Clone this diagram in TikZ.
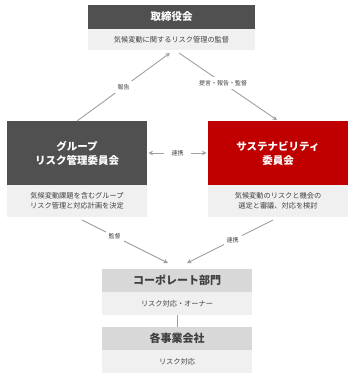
\documentclass[tikz,border=0pt]{standalone}
\usepackage{fontspec}
\setmainfont{Noto Sans CJK JP}
\usetikzlibrary{arrows.meta}
\definecolor{darkbox}{HTML}{505050}
\definecolor{redbox}{HTML}{C00000}
\definecolor{lightbox}{HTML}{F0F0F0}
\definecolor{midbox}{HTML}{D8D8D8}
\definecolor{txtgrey}{HTML}{404040}
\definecolor{arrgrey}{HTML}{A0A0A0}
\begin{document}
\begin{tikzpicture}[x=1pt,y=-1pt,
  box/.style={rectangle, inner sep=0pt, outer sep=0pt, align=center},
  titlebox/.style={box, text=white, font=\fontsize{10.5}{14}\selectfont\bfseries},
  subbox/.style={box, fill=lightbox, text=txtgrey, font=\fontsize{7.2}{10.5}\selectfont},
  greytitle/.style={box, fill=midbox, text=txtgrey, font=\fontsize{11}{13}\selectfont\bfseries},
  conn/.style={draw=arrgrey, line width=0.9pt, -{Stealth[length=4.5pt,width=4.5pt]}},
  lbl/.style={fill=white, inner sep=3pt, text=txtgrey, font=\fontsize{6}{7}\selectfont}
]
\useasboundingbox (0,0) rectangle (354,380);
% top
\node[titlebox, fill=darkbox, minimum width=167pt, minimum height=24pt] (board) at (171.5,17) {取締役会};
\node[subbox, minimum width=167pt, minimum height=21pt] (boardsub) at (171.5,39.5) {気候変動に関するリスク管理の監督};
% group
\node[titlebox, fill=darkbox, minimum width=140pt, minimum height=64pt] (grp) at (77,153) {グループ\\リスク管理委員会};
\node[subbox, minimum width=140pt, minimum height=32pt] (grpsub) at (77,201) {気候変動課題を含むグループ\\リスク管理と対応計画を決定};
% sustainability
\node[titlebox, fill=redbox, minimum width=140pt, minimum height=64pt] (sus) at (278,153) {サステナビリティ\\委員会};
\node[subbox, minimum width=140pt, minimum height=32pt] (sussub) at (278,201) {気候変動のリスクと機会の\\選定と審議、対応を検討};
% corporate
\node[greytitle, minimum width=150pt, minimum height=23pt] (corp) at (177,280.5) {コーポレート部門};
\node[subbox, minimum width=150pt, minimum height=23pt] (corpsub) at (177,303.5) {リスク対応・オーナー};
% business companies
\node[greytitle, minimum width=150pt, minimum height=23pt] (biz) at (177,338.5) {各事業会社};
\node[subbox, minimum width=150pt, minimum height=23pt] (bizsub) at (177,361.5) {リスク対応};
\draw[draw=arrgrey, line width=0.9pt] (corpsub.south) -- (biz.north);
% connector end points
\coordinate (tl) at (170,53);
\coordinate (tr) at (179,53);
\coordinate (trs) at (277,120);
\coordinate (bl) at (168,263);
\coordinate (br) at (187,263);
\coordinate (bls) at (82,220);
\coordinate (brs) at (273,220);
% arrows
\draw[conn] (grp.north) -- node[lbl, pos=0.5] {報告} (tl);
\draw[conn] (tr) -- node[lbl, pos=0.45] {提言・報告・監督} (trs);
\node[lbl, inner sep=1pt] (link) at (177.5,153) {連携};
\draw[conn] ([xshift=-6pt]link.west) -- ([xshift=1.5pt]grp.east);
\draw[conn] ([xshift=6pt]link.east) -- ([xshift=-1.5pt]sus.west);
\draw[conn] (bls) -- node[lbl, pos=0.38] {監督} (bl);
\draw[conn] (brs) -- node[lbl, pos=0.47] {連携} (br);
\end{tikzpicture}
\end{document}
